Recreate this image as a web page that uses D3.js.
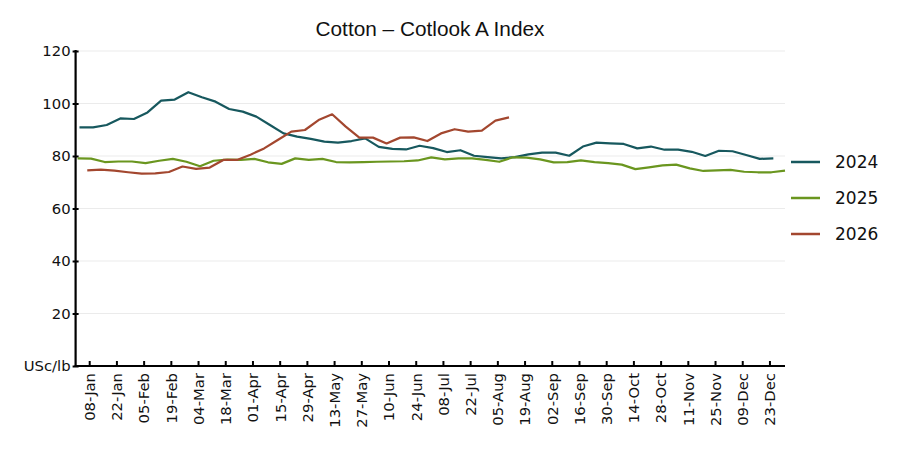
<!DOCTYPE html>
<html>
<head>
<meta charset="utf-8">
<script src="https://cdn.jsdelivr.net/npm/d3@7"></script>
<style>
  html, body { margin: 0; padding: 0; background: #fff; }
  svg { display: block; }
</style>
</head>
<body>
<svg id="chart" width="900" height="450"></svg>
<script>
// ---------- DATA ----------
const title = "Cotton – Cotlook A Index";
const seriesNames = ["2024", "2025", "2026"];
const seriesColors = ["#17585e", "#6a961f", "#a3472f"];
// first observation date of each series (mapped onto a common calendar year)
const seriesStart = ["2024-01-03", "2024-01-02", "2024-01-07"];

// weekly values, USc/lb
const values2024 = [90.9, 90.9, 91.8, 94.3, 94.1, 96.6, 101.1, 101.5, 104.3, 102.4,
  100.7, 97.9, 96.9, 95.0, 91.8, 88.6, 87.4, 86.5, 85.5, 85.1,
  85.7, 86.7, 83.5, 82.7, 82.5, 83.9, 83.0, 81.5, 82.2, 80.1,
  79.6, 79.1, 79.6, 80.6, 81.3, 81.3, 80.1, 83.6, 85.1, 84.8,
  84.6, 82.9, 83.6, 82.4, 82.4, 81.6, 80.0, 82.0, 81.8, 80.4,
  78.9, 79.1];
const values2025 = [79.1, 79.0, 77.7, 77.9, 77.9, 77.3, 78.2, 78.9, 77.8, 76.1,
  78.2, 78.6, 78.5, 78.9, 77.6, 77.0, 79.1, 78.5, 78.9, 77.7,
  77.6, 77.7, 77.8, 77.9, 78.0, 78.3, 79.5, 78.7, 79.1, 79.1,
  78.5, 77.8, 79.5, 79.4, 78.7, 77.6, 77.7, 78.3, 77.7, 77.3,
  76.7, 75.0, 75.7, 76.4, 76.7, 75.3, 74.3, 74.5, 74.7, 74.0,
  73.8, 73.8, 74.4];
const values2026 = [74.5, 74.8, 74.4, 73.8, 73.3, 73.4, 73.9, 76.0, 75.1, 75.6,
  78.5, 78.5, 80.5, 82.9, 86.1, 89.3, 89.9, 93.7, 95.9, 91.2,
  87.0, 87.0, 84.8, 87.0, 87.1, 85.7, 88.6, 90.2, 89.3, 89.7,
  93.5, 94.7];
const seriesValues = [values2024, values2025, values2026];

const xTickLabels = ["08-Jan", "22-Jan", "05-Feb", "19-Feb", "04-Mar", "18-Mar",
  "01-Apr", "15-Apr", "29-Apr", "13-May", "27-May", "10-Jun", "24-Jun", "08-Jul",
  "22-Jul", "05-Aug", "19-Aug", "02-Sep", "16-Sep", "30-Sep", "14-Oct", "28-Oct",
  "11-Nov", "25-Nov", "09-Dec", "23-Dec"];
const yTicks = [0, 20, 40, 60, 80, 100, 120];
const yUnitLabel = "USc/lb";

// ---------- CHART ----------
(function () {
const svg = d3.select("#chart");
const pL = 75.6, pR = 785, pT = 51, pB = 366;
const tickFont = 14.8;

const parseISO = d3.timeParse("%Y-%m-%d");
const parseTick = d3.timeParse("%Y-%d-%b");

const x = d3.scaleTime()
  .domain([parseISO("2024-01-01"), parseISO("2024-12-31")])
  .range([pL, pR]);
const y = d3.scaleLinear().domain([0, 120]).range([pB, pT]);

const series = seriesNames.map((name, i) => {
  const start = parseISO(seriesStart[i]);
  return {
    name, color: seriesColors[i],
    points: seriesValues[i].map((v, k) => ({ date: d3.timeDay.offset(start, 7 * k), value: v }))
  };
});

const tickDates = xTickLabels.map(s => parseTick("2024-" + s));

// gridlines
svg.append("g").selectAll("line")
  .data(yTicks.filter(d => d > 0))
  .join("line")
  .attr("x1", pL).attr("x2", pR)
  .attr("y1", d => y(d)).attr("y2", d => y(d))
  .attr("stroke", "#ebebeb").attr("stroke-width", 1.2);

// title
svg.append("text")
  .attr("x", 430).attr("y", 36)
  .attr("text-anchor", "middle")
  .attr("font-family", "Liberation Sans, Arial, sans-serif")
  .attr("font-size", 20.8)
  .attr("fill", "#111")
  .text(title);

// y axis
const yAxis = d3.axisLeft(y)
  .tickValues(yTicks)
  .tickSize(3)
  .tickPadding(3)
  .tickFormat(d => d === 0 ? yUnitLabel : d);
const gy = svg.append("g").attr("transform", `translate(${pL},0)`).call(yAxis);
gy.attr("font-size", null).attr("font-family", null);
gy.select(".domain").remove();
gy.selectAll(".tick line").attr("x2", -3).attr("x1", 3).attr("stroke", "#000").attr("stroke-width", 2);
gy.selectAll(".tick text")
  .style("font-family", "'DejaVu Sans', sans-serif")
  .style("font-size", tickFont + "px")
  .attr("fill", "#111")
  .attr("x", -5);
svg.append("line")
  .attr("x1", pL).attr("x2", pL)
  .attr("y1", pT - 1).attr("y2", pB + 1)
  .attr("stroke", "#000").attr("stroke-width", 2.2);

// x axis
const xAxis = d3.axisBottom(x)
  .tickValues(tickDates)
  .tickSize(-5)
  .tickFormat((d, i) => xTickLabels[i]);
const gx = svg.append("g").attr("transform", `translate(0,${pB})`).call(xAxis);
gx.attr("font-size", null).attr("font-family", null);
gx.select(".domain").remove();
gx.selectAll(".tick line").attr("stroke", "#000").attr("stroke-width", 2);
gx.selectAll(".tick text")
  .style("font-family", "'DejaVu Sans', sans-serif")
  .style("font-size", tickFont + "px")
  .attr("fill", "#111")
  .attr("text-anchor", "end")
  .attr("transform", "rotate(-90)")
  .attr("x", -7).attr("y", 0).attr("dy", "0.36em");
svg.append("line")
  .attr("x1", pL - 1).attr("x2", pR)
  .attr("y1", pB).attr("y2", pB)
  .attr("stroke", "#000").attr("stroke-width", 2.2);

// lines
const line = d3.line().x(d => x(d.date)).y(d => y(d.value));
svg.append("g").selectAll("path")
  .data(series)
  .join("path")
  .attr("d", d => line(d.points))
  .attr("fill", "none")
  .attr("stroke", d => d.color)
  .attr("stroke-width", 2.2)
  .attr("stroke-linejoin", "round");

// legend
const legendY = [162, 198, 234];
const lg = svg.append("g").selectAll("g")
  .data(series)
  .join("g")
  .attr("transform", (d, i) => `translate(791,${legendY[i]})`);
lg.append("line")
  .attr("x1", 0).attr("x2", 29)
  .attr("stroke", d => d.color).attr("stroke-width", 2.5);
lg.append("text")
  .attr("x", 44).attr("dy", "0.36em")
  .attr("font-family", "DejaVu Sans, sans-serif")
  .attr("font-size", 17)
  .attr("fill", "#111")
  .text(d => d.name);
})();
</script>
</body>
</html>
